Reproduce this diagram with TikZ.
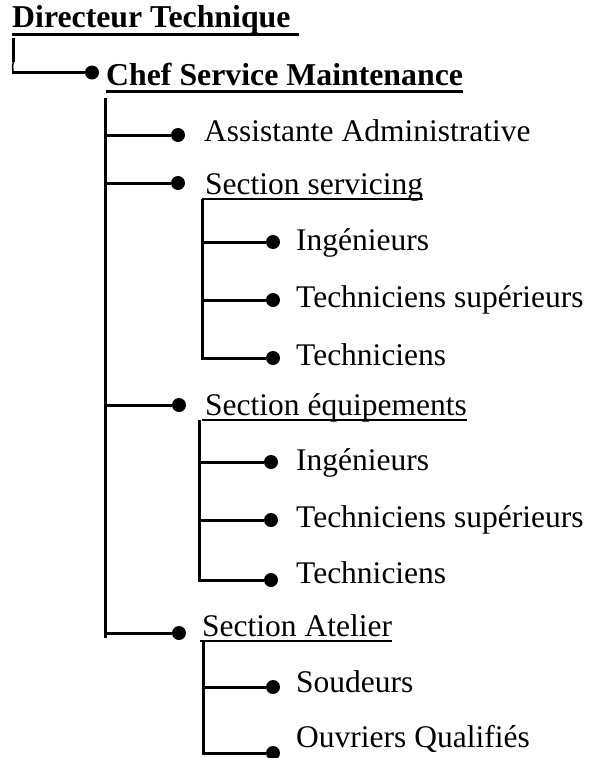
\documentclass[tikz,border=0pt]{standalone}
\usepackage{fontspec}
\setmainfont{Liberation Serif}
\begin{document}
\begin{tikzpicture}[x=1pt,y=-1pt,
  lbl/.style={anchor=base west, inner sep=0pt, font=\fontsize{31.5}{36}\selectfont},
  head/.style={anchor=base west, inner sep=0pt, font=\fontsize{31.8}{36}\selectfont\bfseries},
  bullet/.style={circle, fill=black, inner sep=0pt, minimum size=14pt},
  link/.style={line width=3pt},
  ulthick/.style={line width=3pt},
  ulthin/.style={line width=2pt}]
\useasboundingbox (0,0) rectangle (590,758);

% headings
\node[head] (dir)  at (12,27) {Directeur Technique};
\node[head] (chef) at (106,85) {Chef Service Maintenance};
\draw[ulthick] ([yshift=-7pt]dir.base west) -- ([yshift=-7pt,xshift=8pt]dir.base east);
\draw[ulthick] ([yshift=-6.5pt]chef.base west) -- ([yshift=-6.5pt]chef.base east);

% first level
\node[lbl] (assist)    at (204,141) {Assistante Administrative};
\node[lbl] (servicing) at (205,194) {Section servicing};
\node[lbl] (equip)     at (205,415) {Section équipements};
\node[lbl] (atelier)   at (202,636) {Section Atelier};
\draw[ulthin] ([yshift=-5pt,xshift=-3pt]servicing.base west) -- ([yshift=-5pt]servicing.base east);
\draw[ulthin] ([yshift=-5pt,xshift=-3pt]equip.base west) -- ([yshift=-5pt]equip.base east);
\draw[ulthin] ([yshift=-5pt,xshift=-2pt]atelier.base west) -- ([yshift=-5pt]atelier.base east);

% second level
\node[lbl] (s1) at (296,250) {Ingénieurs};
\node[lbl] (s2) at (296,307) {Techniciens supérieurs};
\node[lbl] (s3) at (296,365) {Techniciens};
\node[lbl] (e1) at (296,470) {Ingénieurs};
\node[lbl] (e2) at (296,527) {Techniciens supérieurs};
\node[lbl] (e3) at (296,583) {Techniciens};
\node[lbl] (a1) at (296,692) {Soudeurs};
\node[lbl] (a2) at (296,747) {Ouvriers Qualifiés};

% bullets
\node[bullet] (dchef)   at (92,72.5) {};
\node[bullet] (dassist) at (178,135) {};
\node[bullet] (dserv)   at (178,183) {};
\node[bullet] (dequip)  at (179,405) {};
\node[bullet] (datel)   at (179,633) {};
\node[bullet] (ds1) at (273,242) {};
\node[bullet] (ds2) at (273,300) {};
\node[bullet] (ds3) at (273,358) {};
\node[bullet] (de1) at (271,462) {};
\node[bullet] (de2) at (271,520) {};
\node[bullet] (de3) at (271,580) {};
\node[bullet] (da1) at (273,687) {};
\node[bullet] (da2) at (273,753) {};

% director to head of service
\coordinate (dirfoot) at (13.5,38);
\draw[line width=3.5pt] (dirfoot) -- (13.5,62);
\draw[line width=1.5pt] (13.5,62) -- (12.5,66) -- (13,71);
\draw[line width=3.5pt] (12,72.5) -- (dchef);

% main trunk
\coordinate (trunk) at (105,98);
\coordinate (trunkend) at (105,638);
\draw[link] (trunk) -- (trunkend);
\foreach \d in {dassist,dserv,dequip,datel}
  \draw[link] (trunk |- \d) -- (\d);

% servicing section
\coordinate (servtop) at (202,199);
\draw[link] (servtop) |- (ds3);
\foreach \d in {ds1,ds2}
  \draw[link] (servtop |- \d) -- (\d);

% equipment section
\coordinate (equiptop) at (199,420);
\draw[link] (equiptop) |- (de3);
\foreach \d in {de1,de2}
  \draw[link] (equiptop |- \d) -- (\d);

% workshop section
\coordinate (ateltop) at (203,641);
\draw[link] (ateltop) |- (da2);
\draw[link] (ateltop |- da1) -- (da1);
\end{tikzpicture}
\end{document}
